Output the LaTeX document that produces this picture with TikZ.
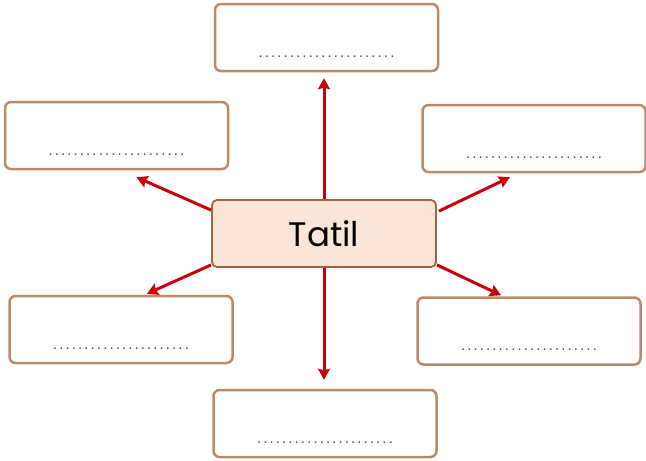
\documentclass[tikz,border=0pt]{standalone}
\usepackage{fontspec}
\setmainfont{Poppins}
\newfontfamily\dotsfont[LetterSpace=14]{Liberation Sans}
\usetikzlibrary{calc,arrows.meta}

\definecolor{boxbrown}{RGB}{188,138,104}
\definecolor{cenbrown}{RGB}{160,100,65}
\definecolor{cenfill}{RGB}{251,229,214}
\definecolor{arrred}{RGB}{200,0,10}

\tikzset{
  answerbox/.style={draw=boxbrown,line width=2.5pt,rounded corners=6pt,fill=white,
    minimum width=223pt,minimum height=67pt,inner sep=0pt},
  centerbox/.style={draw=cenbrown,line width=1.8pt,rounded corners=5pt,fill=cenfill,
    minimum width=224pt,minimum height=67pt,inner sep=0pt,
    font=\fontsize{34}{34}\selectfont},
  dotline/.style={anchor=base,inner sep=0pt,text=black!70,
    font=\dotsfont\fontsize{15}{15}\selectfont},
  arr/.style={draw=arrred,line width=3pt,-{Stealth[length=11pt,width=12pt,inset=1.5pt]}}
}

\begin{document}
\begin{tikzpicture}[x=1pt,y=-1pt]
  \useasboundingbox (0,0) rectangle (646,461);

  % boxes
  \node[answerbox] (top) at (326.5,37.5) {};
  \node[answerbox] (lu) at (116.5,135.5) {};
  \node[answerbox] (ru) at (534,138.5) {};
  \node[answerbox] (ld) at (121,329.5) {};
  \node[answerbox] (rd) at (529,331) {};
  \node[answerbox] (bot) at (325,423.5) {};
  \node[centerbox] (cen) at (324,233.5) {Tatil};

  % dotted answer lines
  \node[dotline] (top-dots) at ([yshift=15pt]top.south) {......................};
  \node[dotline] (lu-dots) at ([yshift=15pt]lu.south) {......................};
  \node[dotline] (ru-dots) at ([yshift=15pt]ru.south) {......................};
  \node[dotline] (ld-dots) at ([yshift=15pt]ld.south) {......................};
  \node[dotline] (rd-dots) at ([yshift=15pt]rd.south) {......................};
  \node[dotline] (bot-dots) at ([yshift=15pt]bot.south) {......................};

  % arrow tips
  \coordinate (lu-tip) at ($(lu.south)+(20,7)$);
  \coordinate (ru-tip) at ($(ru.south)+(-24,4)$);
  \coordinate (ld-tip) at ($(ld.north)+(26,-1)$);
  \coordinate (rd-tip) at ($(rd.north)+(-28,-1)$);

  \draw[arr] (cen.north) -- ([yshift=-6pt]cen.north |- top.south);
  \draw[arr] (cen.south) -- ([yshift=9pt]cen.south |- bot.north);
  \draw[arr] ($(cen.north west)+(0,11)$) -- (lu-tip);
  \draw[arr] ($(cen.north east)+(2,12)$) -- (ru-tip);
  \draw[arr] ($(cen.south west)+(0,-3)$) -- (ld-tip);
  \draw[arr] ($(cen.south east)+(0,-3)$) -- (rd-tip);

\end{tikzpicture}
\end{document}
